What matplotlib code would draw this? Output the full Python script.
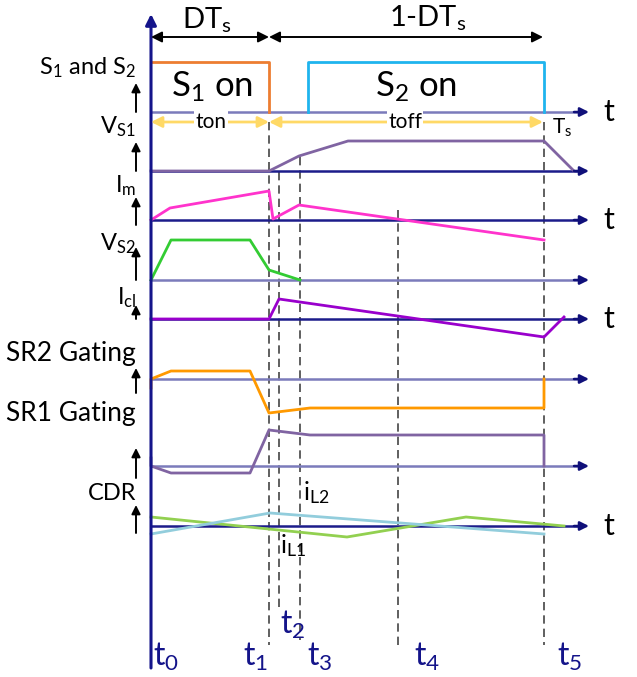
import matplotlib.pyplot as plt
import numpy as np

plt.rcParams['font.family'] = ['Lato', 'DejaVu Sans']
plt.rcParams['mathtext.fontset'] = 'custom'
plt.rcParams['mathtext.rm'] = 'Lato'
plt.rcParams['mathtext.it'] = 'Lato'

# instantes de tiempo (posiciones en la figura, px)
t_pos = [151, 269, 279, 300, 398, 544]
t_lab = ['t$_0$', 't$_1$', 't$_2$', 't$_3$', 't$_4$', 't$_5$']
t_lab_x = [153, 243, 280, 307, 414, 557]
t_lab_y = [657, 657, 625, 657, 657, 657]
dash_top = [0, 122, 172, 157, 210, 122]
dash_bot = [0, 645, 607, 640, 645, 645]

# lineas base de cada señal
base_y = [112, 171, 220, 280, 319, 379, 466, 526]
base_col = ['#7b7bbb', '#1c1c8a', '#1c1c8a', '#7b7bbb', '#1c1c8a', '#7b7bbb', '#7b7bbb', '#1c1c8a']
t_rows = [112, 220, 319, 526]

# etiquetas izquierda
lab_txt = ['S$_1$ and S$_2$', 'V$_{S1}$', 'I$_m$', 'V$_{S2}$', 'I$_{cl}$', 'SR2 Gating', 'SR1 Gating', 'CDR']
lab_y = [68, 127, 186, 244, 298, 354, 413, 493]
lab_fs = [17, 17, 17, 17, 17, 19, 19, 17]
arr_bot = [112, 171, 225, 280, 319, 393, 478, 533]
arr_top = [83, 142, 197, 247, 305, 368, 448, 505]

# formas de onda
s1_x = [151, 269, 269]
s1_y = [62, 62, 112]
s2_x = [308, 308, 544, 544]
s2_y = [112, 62, 62, 112]
vs1_x = [151, 269, 299, 348, 544, 574]
vs1_y = [171, 171, 156, 141, 141, 171]
im_x = [151, 170, 269, 273, 299, 544]
im_y = [220, 208, 191, 219, 205, 240]
vs2_x = [151, 171, 250, 269, 300]
vs2_y = [280, 240, 240, 270, 280]
icl_x = [151, 269, 279, 544, 564]
icl_y = [319, 319, 299, 337, 317]
sr2_x = [151, 151, 171, 250, 269, 310, 544, 544]
sr2_y = [388, 379, 371, 371, 413, 408, 408, 379]
sr1_x = [151, 151, 171, 250, 269, 310, 544, 544]
sr1_y = [458, 466, 473, 473, 430, 435, 435, 466]
il2_x = [151, 347, 466, 564]
il2_y = [517, 537, 517, 526]
il1_x = [151, 270, 544]
il1_y = [534, 513, 534]

fig = plt.figure(figsize=(6.37, 6.77), dpi=100)
ax = fig.add_axes([0, 0, 1, 1])
ax.set_xlim(0, 637)
ax.set_ylim(677, 0)
ax.axis('off')

# lineas punteadas verticales
for i in range(1, 6):
    ax.plot([t_pos[i], t_pos[i]], [dash_top[i], dash_bot[i]], '--', color='#444444', lw=1.2, dashes=(5, 3))

# ejes horizontales con flecha
for y, c in zip(base_y, base_col):
    ax.plot([151, 580], [y, y], color=c, lw=1.8)
    ax.annotate('', xy=(589, y), xytext=(574, y),
                arrowprops=dict(arrowstyle='-|>', color='#10107a', lw=1.8, mutation_scale=13,
                                shrinkA=0, shrinkB=0))
for y in t_rows:
    ax.text(603, y, 't', fontsize=22, ha='left', va='center')

# eje vertical principal
ax.annotate('', xy=(151, 14), xytext=(151, 668),
            arrowprops=dict(arrowstyle='-|>', color='#14148a', lw=2.2, mutation_scale=16,
                            shrinkA=0, shrinkB=0))

# flechas DTs y 1-DTs
ax.annotate('', xy=(269, 37), xytext=(151, 37),
            arrowprops=dict(arrowstyle='<|-|>', color='black', lw=1.4, mutation_scale=16, shrinkA=0, shrinkB=0))
ax.annotate('', xy=(543, 37), xytext=(269, 37),
            arrowprops=dict(arrowstyle='<|-|>', color='black', lw=1.4, mutation_scale=16, shrinkA=0, shrinkB=0))
ax.text(207, 20, 'DT$_s$', fontsize=21, ha='center', va='center')
ax.text(428, 18, '1-DT$_s$', fontsize=21, ha='center', va='center')

# flechas ton / toff
ax.annotate('', xy=(269, 122), xytext=(151, 122),
            arrowprops=dict(arrowstyle='<|-|>', color='#ffd966', lw=2, mutation_scale=16, shrinkA=0, shrinkB=0))
ax.annotate('', xy=(543, 122), xytext=(269, 122),
            arrowprops=dict(arrowstyle='<|-|>', color='#ffd966', lw=2, mutation_scale=16, shrinkA=0, shrinkB=0))
ax.text(211, 122, 'ton', fontsize=15, ha='center', va='center',
        bbox=dict(fc='white', ec='none', pad=1))
ax.text(405, 122, 'toff', fontsize=15, ha='center', va='center',
        bbox=dict(fc='white', ec='none', pad=1))
ax.text(552, 128, 'T$_s$', fontsize=15, ha='left', va='center')

# pulsos S1 / S2
ax.plot(s1_x, s1_y, color='#ed7d31', lw=2)
ax.plot(s2_x, s2_y, color='#1fb4ee', lw=2)
ax.text(212, 87, 'S$_1$ on', fontsize=25, ha='center', va='center')
ax.text(416, 87, 'S$_2$ on', fontsize=25, ha='center', va='center')

# señales
ax.plot(vs1_x, vs1_y, color='#8064a2', lw=2)
ax.plot(im_x, im_y, color='#ff33cc', lw=2)
ax.plot(vs2_x, vs2_y, color='#33cc33', lw=2)
ax.plot(icl_x, icl_y, color='#9900cc', lw=2)
ax.plot(sr2_x, sr2_y, color='#ff9900', lw=2)
ax.plot(sr1_x, sr1_y, color='#8064a2', lw=2)
ax.plot(il2_x, il2_y, color='#92d050', lw=2)
ax.plot(il1_x, il1_y, color='#92cddc', lw=2)
ax.text(303, 493, 'i$_{L2}$', fontsize=18, ha='left', va='center')
ax.text(280, 546, 'i$_{L1}$', fontsize=18, ha='left', va='center')

# etiquetas izquierda con flechas
for txt, y, fs in zip(lab_txt, lab_y, lab_fs):
    ax.text(136, y, txt, fontsize=fs, ha='right', va='center')
for yb, yt in zip(arr_bot, arr_top):
    ax.annotate('', xy=(136, yt), xytext=(136, yb),
                arrowprops=dict(arrowstyle='-|>', color='black', lw=1.4, mutation_scale=13,
                                shrinkA=0, shrinkB=0))

# etiquetas de tiempo
for x, lab, y in zip(t_lab_x, t_lab, t_lab_y):
    ax.text(x, y, lab, fontsize=23, color='#14148a', ha='left', va='center')

fig.savefig('out.png', dpi=100)
